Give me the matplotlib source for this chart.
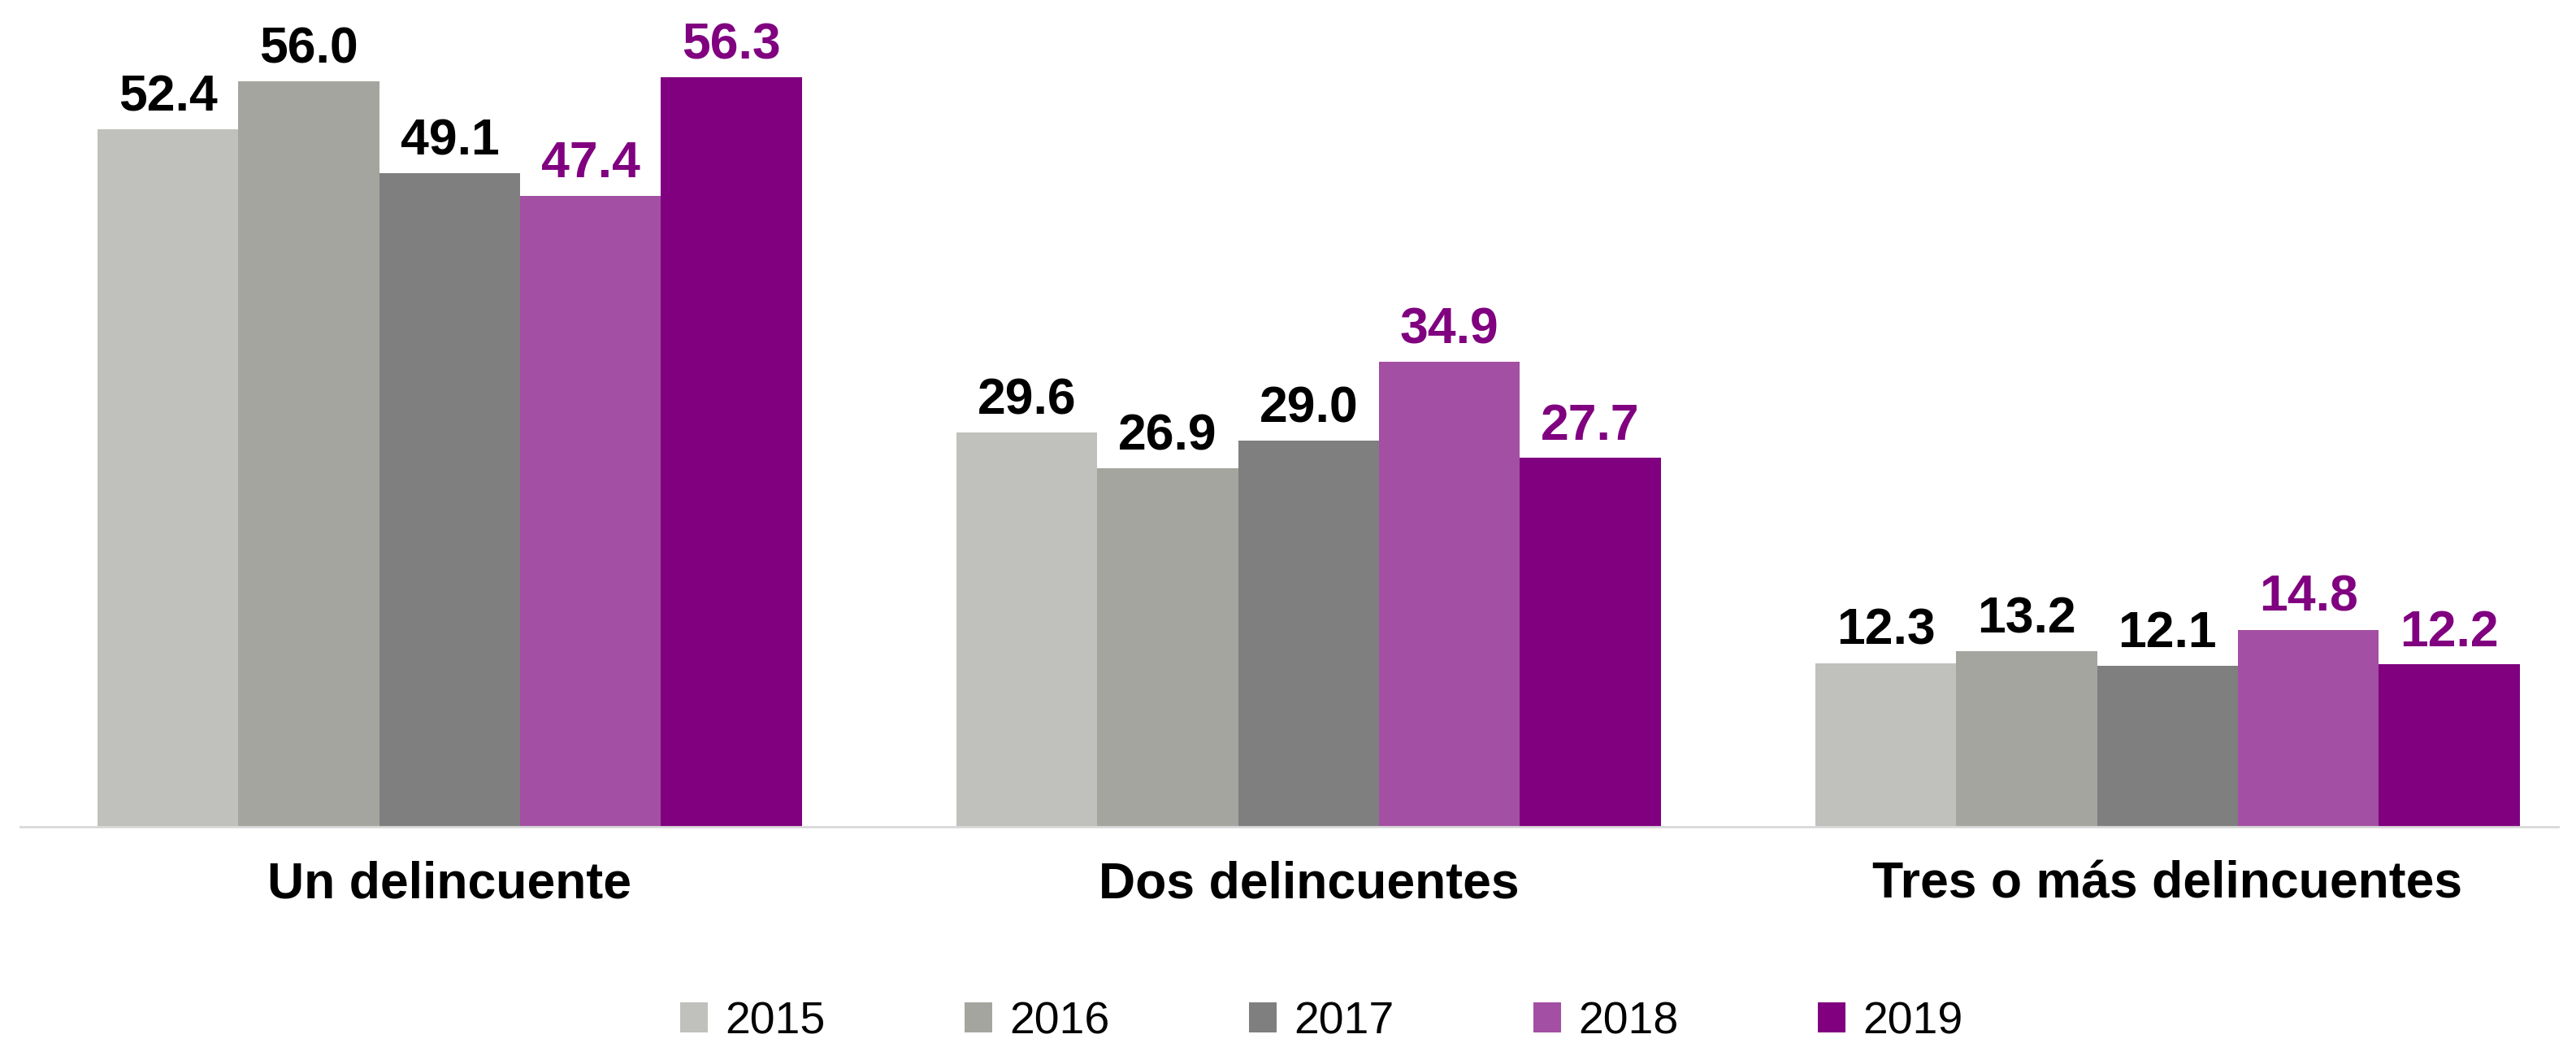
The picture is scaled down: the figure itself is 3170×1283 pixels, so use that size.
import matplotlib
matplotlib.use("Agg")
import matplotlib.pyplot as plt
import numpy as np

categories = ["Un delincuente", "Dos delincuentes", "Tres o más delincuentes"]
years = ["2015", "2016", "2017", "2018", "2019"]
values = {
    "2015": [52.4, 29.6, 12.3],
    "2016": [56.0, 26.9, 13.2],
    "2017": [49.1, 29.0, 12.1],
    "2018": [47.4, 34.9, 14.8],
    "2019": [56.3, 27.7, 12.2],
}
colors = ["#C0C1BC", "#A5A59F", "#7F7F7F", "#A34FA3", "#800080"]
label_colors = ["black", "black", "black", "#800080", "#800080"]

plt.rcParams['font.family'] = ['Liberation Sans', 'DejaVu Sans']

fig = plt.figure(figsize=(31.7, 12.83), dpi=100)
ax = fig.add_axes([0.0079, 0.2073, 0.9852, 0.7927])

x = np.arange(len(categories))
bw = 0.164
for i, y in enumerate(years):
    pos = x + (i - 2) * bw
    bars = ax.bar(pos, values[y], width=bw, color=colors[i], label=y, zorder=2)
    for b, v in zip(bars, values[y]):
        ax.annotate(f"{v:.1f}", (b.get_x() + b.get_width() / 2, v),
                    xytext=(0, 7), textcoords="offset points",
                    ha="center", va="bottom", fontsize=45, fontweight="bold",
                    color=label_colors[i])

ax.set_xlim(-0.5, 2.455)
ax.set_ylim(0, 62.1)
ax.set_xticks(x)
ax.set_xticklabels(categories, fontsize=45, fontweight="bold")
ax.tick_params(axis='x', length=0, pad=30)
ax.set_yticks([])
for s in ["top", "right", "left"]:
    ax.spines[s].set_visible(False)
ax.spines["bottom"].set_color("#D9D9D9")
ax.spines["bottom"].set_linewidth(2)

fig.legend(loc="center", bbox_to_anchor=(0.513, 0.02), ncol=5, frameon=False,
           fontsize=40, handlelength=0.6, handleheight=0.65,
           handletextpad=0.38, columnspacing=3.1)

fig.savefig("out.png", dpi=100)
